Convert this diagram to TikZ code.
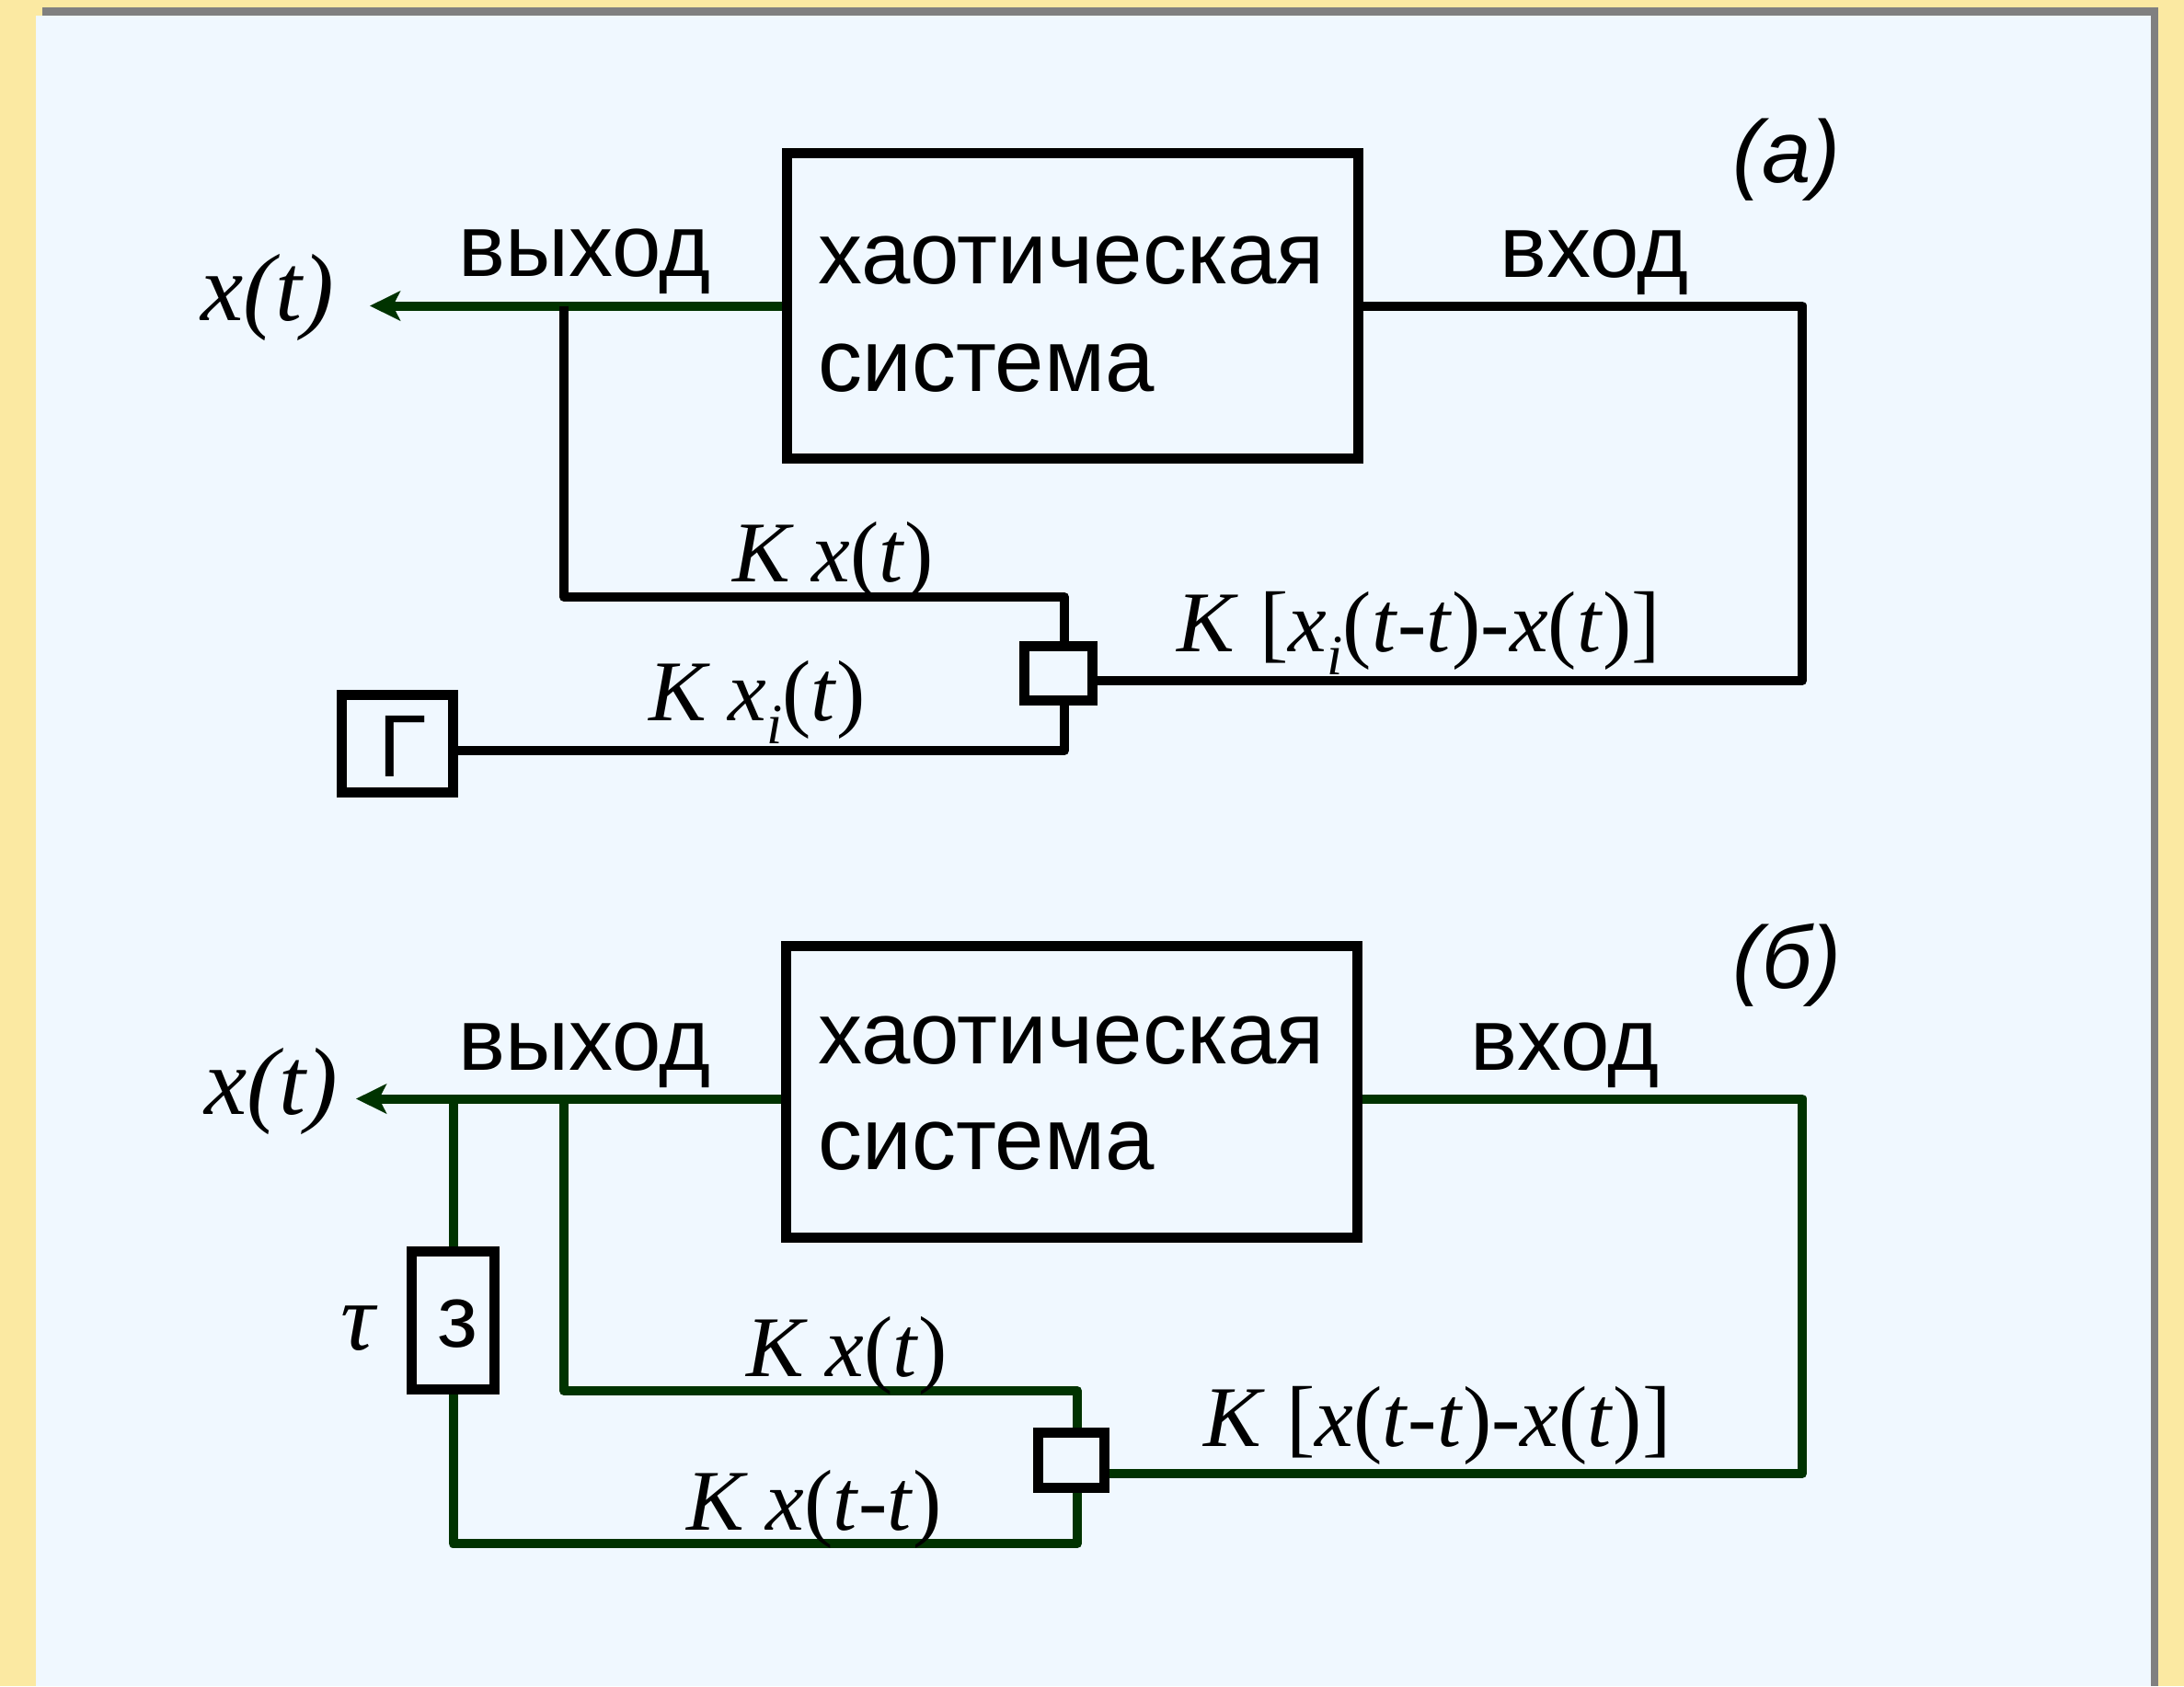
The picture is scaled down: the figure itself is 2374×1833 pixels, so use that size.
\documentclass[tikz,border=0pt]{standalone}
\usepackage{fontspec}
\setmainfont{Liberation Serif}
\setsansfont{Liberation Sans}
\usetikzlibrary{arrows.meta}
\definecolor{bgyellow}{RGB}{251,233,162}
\definecolor{panelblue}{RGB}{240,248,255}
\definecolor{shadowgray}{RGB}{128,128,128}
\definecolor{wiregreen}{RGB}{0,51,0}
\newcommand{\mysubi}{\raisebox{-12.5pt}{\fontsize{31}{31}\selectfont\itshape i}}
\begin{document}
\begin{tikzpicture}[x=0.5pt,y=-0.5pt,
  blockbox/.style={draw=black, line width=5.5pt, rectangle, inner sep=0pt},
  wire/.style={line width=5pt, line join=round},
  gwire/.style={wire, draw=wiregreen},
  bwire/.style={wire, draw=black},
  sanslabel/.style={font=\sffamily\fontsize{48}{56}\selectfont, inner sep=0pt, anchor=base west},
  taglabel/.style={font=\sffamily\itshape\fontsize{48}{56}\selectfont, inner sep=0pt, anchor=base west},
  mathlabel/.style={font=\fontsize{47}{52}\selectfont, inner sep=0pt, anchor=base west},
  biglabel/.style={font=\itshape\fontsize{52}{58}\selectfont, inner sep=0pt, anchor=base west},
  outarrow/.style={-{Stealth[length=16.5pt,width=16pt,inset=4pt]}}
]
% background
\fill[bgyellow] (0,0) rectangle (2374,1833);
\fill[shadowgray] (46,8) rectangle (2346,1833);
\fill[panelblue] (39,17) rectangle (2338,1833);
\useasboundingbox (0,0) rectangle (2374,1833);

% ================= (a) =================
\node[blockbox, minimum width=310.5pt, minimum height=166pt] (sysA) at (1165.5,332.5) {};
\node[sanslabel] (sysAt1) at (889,308) {хаотическая};
\node[sanslabel] (sysAt2) at (889,425) {система};
\node[blockbox, minimum width=37pt, minimum height=29.5pt] (sumA) at (1150.5,732) {};
\node[blockbox, minimum width=60.5pt, minimum height=53pt] (genA) at (432,808.5) {};
\node[font=\sffamily\fontsize{48}{56}\selectfont, inner sep=0pt, anchor=base] (genAt) at (437,844) {Г};

\coordinate (outA) at (402,332.5);
\coordinate (tapA) at (613,332.5);
\coordinate (tapA2) at (613,649);
\coordinate (kA) at (1157,649);
\coordinate (rA1) at (1959,332.5);
\coordinate (rA2) at (1959,740);
\coordinate (bA) at (1157,816);

\draw[gwire, outarrow] (sysA.west) -- (outA);
\draw[bwire] (tapA) -- (tapA2) -- (kA) -- (kA |- sumA.north);
\draw[bwire] (sysA.east) -- (rA1) -- (rA2) -- (rA2 -| sumA.east);
\draw[bwire] (genA.east |- bA) -- (bA) -- (bA |- sumA.south);

\node[sanslabel] (outAlbl) at (498,300) {выход};
\node[sanslabel] (inAlbl) at (1630,301) {вход};
\node[taglabel] (tagA) at (1883,198) {(а)};
\node[biglabel] (xA) at (218,348) {x(t)};
\node[mathlabel] (kxA) at (796,632) {\textit{K x}(\textit{t})};
\node[mathlabel] (kxiA) at (705,783) {\textit{K x}\mysubi(\textit{t})};
\node[mathlabel] (kdA) at (1279,708) {\textit{K} [\textit{x}\mysubi(\textit{t}-\textit{t})-\textit{x}(\textit{t})]};

% ================= (b) =================
\node[blockbox, minimum width=310.5pt, minimum height=158.5pt] (sysB) at (1165,1187) {};
\node[sanslabel] (sysBt1) at (889,1156) {хаотическая};
\node[sanslabel] (sysBt2) at (889,1271) {система};
\node[blockbox, minimum width=45pt, minimum height=75pt] (delB) at (492.5,1435.5) {};
\node[font=\sffamily\fontsize{48}{56}\selectfont, inner sep=0pt, anchor=base] (delBt) at (498,1464) {з};
\node[blockbox, minimum width=36pt, minimum height=30pt] (sumB) at (1164.5,1587.5) {};

\coordinate (outB) at (387,1194.5);
\coordinate (tapB1) at (492.5,1194.5);
\coordinate (tapB2) at (613,1194.5);
\coordinate (kB) at (1171,1512);
\coordinate (bB) at (1171,1678);
\coordinate (rB1) at (1959,1194.5);
\coordinate (rB2) at (1959,1602);

\draw[gwire, outarrow] (sysB.west |- tapB2) -- (outB);
\draw[gwire] (tapB1) -- (delB.north);
\draw[gwire] (delB.south) -- (delB.south |- bB) -- (bB) -- (bB |- sumB.south);
\draw[gwire] (tapB2) -- (tapB2 |- kB) -- (kB) -- (kB |- sumB.north);
\draw[gwire] (sysB.east |- rB1) -- (rB1) -- (rB2) -- (rB2 -| sumB.east);

\node[sanslabel] (outBlbl) at (498,1163) {выход};
\node[sanslabel] (inBlbl) at (1598,1163) {вход};
\node[taglabel] (tagB) at (1883,1074) {(б)};
\node[biglabel] (xB) at (222,1211) {x(t)};
\node[biglabel] (tauB) at (370,1467) {τ};
\node[mathlabel] (kxB) at (811,1496) {\textit{K x}(\textit{t})};
\node[mathlabel] (kxdB) at (746,1663) {\textit{K x}(\textit{t}-\textit{t})};
\node[mathlabel] (kdB) at (1308,1572) {\textit{K} [\textit{x}(\textit{t}-\textit{t})-\textit{x}(\textit{t})]};
\end{tikzpicture}
\end{document}
